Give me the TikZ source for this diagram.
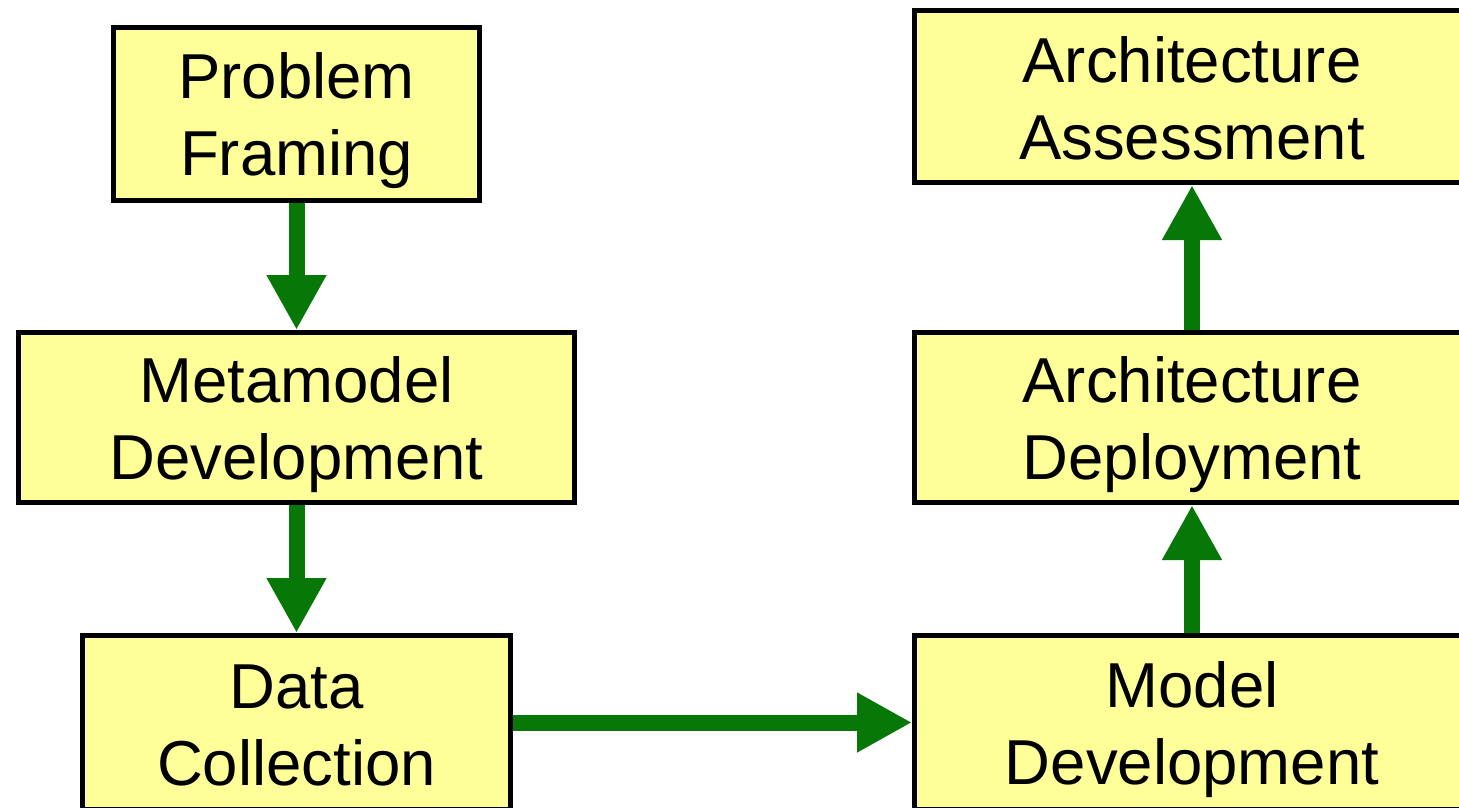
\documentclass[tikz,border=0pt]{standalone}
\usepackage{fontspec}
\setmainfont{Liberation Sans}
\usetikzlibrary{arrows.meta}
\definecolor{boxyellow}{RGB}{255,255,153}
\definecolor{flowgreen}{RGB}{7,120,7}
\newcommand{\stagestrut}{\rule[-12pt]{0pt}{72pt}}
\tikzset{%
  stage/.style={draw=black,line width=5pt,fill=boxyellow,align=center,inner sep=0,
    font=\fontsize{63.5}{77}\selectfont},
  flow/.style={draw=flowgreen,line width=16pt,-{Triangle[width=56pt,length=55pt]}}
}
\begin{document}
\begin{tikzpicture}[x=1pt,y=-1pt]
  \useasboundingbox (0,0) rectangle (1459,807);
  \clip (0,0) rectangle (1459,807);
  \node[stage,minimum width=366pt,minimum height=173pt](pf) at (296.5,114) {\stagestrut Problem\\\stagestrut Framing};
  \node[stage,minimum width=556pt,minimum height=170pt](mm) at (296.5,417.5) {\stagestrut Metamodel\\\stagestrut Development};
  \node[stage,minimum width=428pt,minimum height=174pt](dc) at (296.5,722.5) {\stagestrut Data\\\stagestrut Collection};
  \node[stage,minimum width=555pt,minimum height=174pt](md) at (1192,722.5) {\stagestrut Model\\\stagestrut Development};
  \node[stage,minimum width=555pt,minimum height=170pt](ad) at (1192,417.5) {\stagestrut Architecture\\\stagestrut Deployment};
  \node[stage,minimum width=555pt,minimum height=172pt](aa) at (1192,96.5) {\stagestrut Architecture\\\stagestrut Assessment};
  \draw[flow] (pf.south) -- (mm.north);
  \draw[flow] (mm.south) -- (dc.north);
  \draw[flow] (dc.east) -- (dc.east -| md.west);
  \draw[flow] (md.north) -- (ad.south);
  \draw[flow] (ad.north) -- (aa.south);
\end{tikzpicture}
\end{document}
